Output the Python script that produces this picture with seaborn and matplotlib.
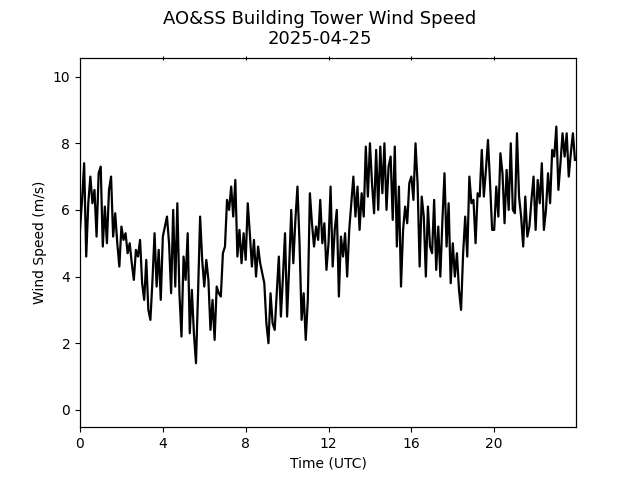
import numpy as np
import matplotlib
matplotlib.use("Agg")
import matplotlib.pyplot as plt
import seaborn as sns

# wind speed (m/s), one value every 6 minutes, grouped in 6-hour blocks
wind_00_06 = [
    5.4, 6.3, 7.4, 4.6, 6.2, 7.0, 6.2, 6.6, 5.2, 7.1,
    7.3, 4.9, 6.1, 5.0, 6.6, 7.0, 5.2, 5.9, 5.0, 4.3,
    5.5, 5.1, 5.3, 4.7, 5.0, 4.4, 3.9, 4.8, 4.6, 5.1,
    3.8, 3.3, 4.5, 3.0, 2.7, 3.9, 5.3, 3.7, 4.8, 3.3,
    5.2, 5.5, 5.8, 5.0, 3.5, 6.0, 3.7, 6.2, 3.5, 2.2,
    4.6, 3.9, 5.3, 2.3, 3.6, 2.3, 1.4, 3.5, 5.8, 4.5,
]
wind_06_12 = [
    3.7, 4.5, 3.9, 2.4, 3.3, 2.1, 3.7, 3.5, 3.4, 4.7,
    4.9, 6.3, 6.0, 6.7, 5.8, 6.9, 4.6, 5.4, 4.4, 5.3,
    4.5, 6.2, 5.3, 4.3, 5.1, 4.0, 4.9, 4.4, 4.1, 3.8,
    2.6, 2.0, 3.5, 2.6, 2.4, 3.5, 4.6, 2.8, 4.0, 5.3,
    2.8, 4.3, 6.0, 4.4, 5.7, 6.7, 5.0, 2.7, 3.5, 2.1,
    3.3, 6.5, 5.6, 4.9, 5.5, 5.1, 6.3, 5.0, 5.6, 4.2,
]
wind_12_18 = [
    5.0, 6.7, 4.3, 5.4, 6.0, 3.4, 5.2, 4.6, 5.3, 4.0,
    5.4, 6.2, 7.0, 5.8, 6.7, 5.4, 6.5, 5.8, 7.9, 6.4,
    8.0, 6.8, 5.9, 7.8, 6.0, 7.9, 6.5, 8.0, 6.0, 7.3,
    7.6, 5.7, 7.9, 4.9, 6.7, 3.7, 5.4, 6.1, 5.6, 6.8,
    7.0, 6.3, 8.0, 6.8, 4.3, 6.4, 5.8, 4.0, 6.1, 4.9,
    4.7, 6.3, 4.2, 5.5, 4.0, 5.7, 7.1, 4.9, 6.2, 3.8,
]
wind_18_24 = [
    5.0, 4.0, 4.7, 3.6, 3.0, 4.7, 5.8, 4.6, 7.0, 6.2,
    6.3, 5.0, 6.5, 6.4, 7.8, 6.4, 7.2, 8.1, 6.8, 5.4,
    5.4, 6.7, 5.8, 7.7, 7.1, 5.6, 7.2, 6.0, 8.0, 6.0,
    5.9, 8.3, 6.4, 5.8, 4.9, 6.4, 5.2, 5.5, 6.3, 7.0,
    5.4, 6.9, 6.2, 7.4, 5.4, 6.0, 7.1, 6.2, 7.8, 7.6,
    8.5, 6.6, 7.4, 8.3, 7.6, 8.3, 7.0, 7.7, 8.3, 7.5,
]

wind = np.array(wind_00_06 + wind_06_12 + wind_12_18 + wind_18_24)
hours = np.arange(len(wind)) / 10.0
hour_ticks = [0, 4, 8, 12, 16, 20]

fig, ax = plt.subplots(figsize=(6.4, 4.8), dpi=100)
sns.lineplot(x=hours, y=wind, color="black", linewidth=1.6, estimator=None, ax=ax)

ax.set_xlim(0, 23.95)
ax.set_ylim(-0.52, 10.57)
ax.set_xticks(hour_ticks)
ax.set_yticks([0, 2, 4, 6, 8, 10])
ax.set_xlabel("Time (UTC)")
ax.set_ylabel("Wind Speed (m/s)")

# small crossing ticks on the top spine
top = ax.twiny()
top.set_xlim(ax.get_xlim())
top.set_xticks(hour_ticks[1:])
top.tick_params(axis="x", direction="inout", length=3, labeltop=False)

fig.suptitle("AO&SS Building Tower Wind Speed\n2025-04-25", fontsize=13)
fig.savefig("out.png", dpi=100)
